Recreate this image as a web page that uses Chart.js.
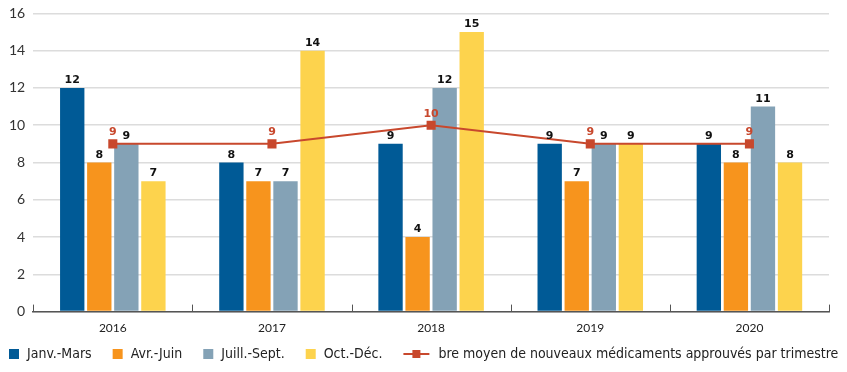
<!DOCTYPE html>
<html>
<head>
<meta charset="utf-8">
<script src="https://cdn.jsdelivr.net/npm/chart.js@4"></script>
<style>
  html, body { margin: 0; padding: 0; background: #fff; overflow: hidden; }
  #wrap { width: 847px; height: 375px; margin-top: -3px; position: relative; }
</style>
</head>
<body>
<div id="wrap"><canvas id="chart"></canvas></div>
<script>
// ---- data ----
const years = ['2016', '2017', '2018', '2019', '2020'];
const janMars = [12, 8, 9, 9, 9];
const avrJuin = [8, 7, 4, 7, 8];
const juilSept = [9, 7, 12, 9, 11];
const octDec = [7, 14, 15, 9, 8];
const moyenne = [9, 9, 10, 9, 9];
const yTicks = [0, 2, 4, 6, 8, 10, 12, 14, 16];

const BLUE = '#005a96';
const ORANGE = '#f7941d';
const GREYBLUE = '#84a2b6';
const YELLOW = '#fdd34d';
const RED = '#c8482d';

// value labels above bars and line points
const valueLabels = {
  id: 'valueLabels',
  afterDatasetsDraw(chart) {
    const ctx = chart.ctx;
    ctx.save();
    ctx.textAlign = 'center';
    ctx.textBaseline = 'bottom';
    ctx.font = 'bold 11px "DejaVu Sans"';
    chart.data.datasets.forEach((ds, i) => {
      const meta = chart.getDatasetMeta(i);
      meta.data.forEach((el, j) => {
        if (ds.type === 'line') {
          ctx.fillStyle = RED;
          ctx.fillText(ds.data[j], el.x, el.y - 6);
        } else {
          ctx.fillStyle = '#111';
          ctx.fillText(ds.data[j], el.x, el.y - 2);
        }
      });
    });
    ctx.restore();
  }
};

// small upward ticks on the x axis between the year groups
const axisTicks = {
  id: 'axisTicks',
  afterDraw(chart) {
    const x = chart.scales.x, area = chart.chartArea, ctx = chart.ctx;
    ctx.save();
    ctx.strokeStyle = '#555';
    ctx.lineWidth = 1;
    for (let i = 0; i <= years.length; i++) {
      const px = Math.round(x.left + (x.right - x.left) * i / years.length) + 0.5;
      ctx.beginPath();
      ctx.moveTo(px, area.bottom);
      ctx.lineTo(px, area.bottom - 7);
      ctx.stroke();
    }
    ctx.restore();
  }
};

// one-row legend at the bottom, line series shown as line + square
const bottomLegend = {
  id: 'bottomLegend',
  afterDraw(chart) {
    const ctx = chart.ctx;
    const y = chart.height - 18;
    let x = 9;
    ctx.save();
    ctx.font = '14px "DejaVu Sans Condensed", "Liberation Sans Narrow", sans-serif';
    ctx.textBaseline = 'middle';
    ctx.textAlign = 'left';
    chart.data.datasets.forEach(ds => {
      if (ds.type === 'line') {
        ctx.strokeStyle = RED; ctx.lineWidth = 2;
        ctx.beginPath(); ctx.moveTo(x, y); ctx.lineTo(x + 26, y); ctx.stroke();
        ctx.fillStyle = RED; ctx.fillRect(x + 9, y - 4, 8, 8);
        x += 35;
      } else {
        ctx.fillStyle = ds.backgroundColor;
        ctx.fillRect(x, y - 5, 10, 10);
        x += 18;
      }
      ctx.fillStyle = '#222';
      ctx.fillText(ds.label, x, y);
      x += ctx.measureText(ds.label).width + 21;
    });
    ctx.restore();
  }
};

const barCommon = { barPercentage: 0.9, categoryPercentage: 0.68, order: 2 };

new Chart(document.getElementById('chart'), {
  type: 'bar',
  data: {
    labels: years,
    datasets: [
      { label: 'Janv.-Mars', data: janMars, backgroundColor: BLUE, ...barCommon },
      { label: 'Avr.-Juin', data: avrJuin, backgroundColor: ORANGE, ...barCommon },
      { label: 'Juill.-Sept.', data: juilSept, backgroundColor: GREYBLUE, ...barCommon },
      { label: 'Oct.-Déc.', data: octDec, backgroundColor: YELLOW, ...barCommon },
      {
        type: 'line',
        label: 'bre moyen de nouveaux médicaments approuvés par trimestre',
        data: moyenne,
        borderColor: RED,
        backgroundColor: RED,
        borderWidth: 2,
        pointStyle: 'rect',
        pointRadius: 5,
        pointBackgroundColor: RED,
        order: 1
      }
    ]
  },
  options: {
    responsive: true,
    maintainAspectRatio: false,
    animation: false,
    layout: { padding: { left: 1, right: 18, top: 0, bottom: 28 } },
    plugins: {
      tooltip: { enabled: false },
      legend: { display: false }
    },
    scales: {
      x: {
        grid: { display: false, drawTicks: false },
        border: { display: true, color: '#555', width: 1.5 },
        ticks: { color: '#222', padding: 9, font: { family: 'Lato', size: 12 } }
      },
      y: {
        min: 0,
        max: 16,
        afterBuildTicks(axis) { axis.ticks = yTicks.map(v => ({ value: v })); },
        grid: { color: '#dcdcdc', lineWidth: 1.5, drawTicks: false },
        border: { display: false },
        ticks: { color: '#333', padding: 8, font: { family: 'Lato', size: 14 } }
      }
    }
  },
  plugins: [valueLabels, axisTicks, bottomLegend]
});
</script>
</body>
</html>
